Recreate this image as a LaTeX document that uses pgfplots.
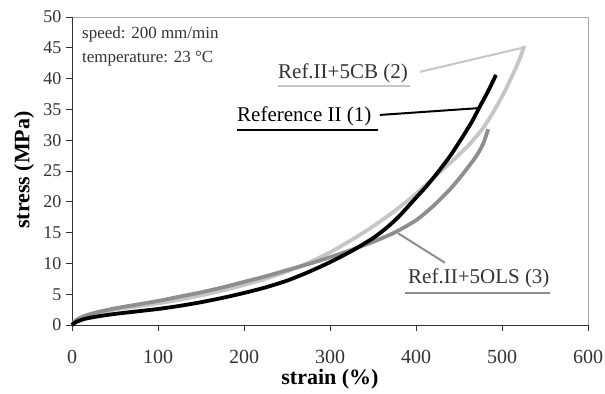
\documentclass[border=0pt]{standalone}
\usepackage{pgfplots}
\pgfplotsset{compat=1.18}
\usepackage{fontspec}
\setmainfont{Liberation Serif}
\definecolor{lg}{HTML}{C6C6C6}
\definecolor{mg}{HTML}{8E8E8E}
\definecolor{tc}{HTML}{333333}
\begin{document}
\begin{tikzpicture}
\begin{axis}[
  scale only axis, width=516bp, height=308bp,
  xmin=0, xmax=600, ymin=0, ymax=50,
  clip=false,
  every non boxed x axis/.style={},
  every non boxed y axis/.style={},
  axis lines*=left,
  x axis line style={-}, y axis line style={-},
  axis line style={draw=tc, line width=1bp},
  axis background/.style={draw=black!35, line width=0.8bp},
  xtick={0,100,...,600}, ytick={0,5,...,50},
  tick align=outside, major tick length=6bp,
  tick style={draw=tc, line width=1bp},
  /pgf/number format/assume math mode=true,
  xticklabel style={font=\fontsize{20bp}{22bp}\selectfont, text=tc, yshift=-16bp},
  yticklabel style={font=\fontsize{18bp}{20bp}\selectfont, text=tc, xshift=-1bp},
  xlabel={strain (\%)},
  ylabel={stress (MPa)},
  xlabel style={font=\fontsize{22bp}{24bp}\selectfont\bfseries, at={(axis description cs:0.5,-0.175)}, anchor=center},
  ylabel style={font=\fontsize{22bp}{24bp}\selectfont\bfseries, at={(axis description cs:-0.093,0.503)}, anchor=center},
]
% Ref.II+5CB (2) light gray
\addplot[lg, line width=3.8bp, smooth, tension=0.4] coordinates {
(0,0) (5,0.8) (15,1.4) (30,1.9) (50,2.5) (75,3.0) (100,3.5) (125,4.1) (150,4.8) (175,5.6)
(200,6.5) (225,7.5) (250,8.7) (275,10.1) (300,11.8) (325,13.8) (350,16.0) (375,18.5) (400,21.3)
(426,24.6) (445,27.0) (462,29.3) (477,31.8) (490,34.6) (502,37.6) (513,40.8) (520,43.0) (526,45.3)};
% Ref.II+5OLS (3) medium gray
\addplot[mg, line width=3.8bp, smooth, tension=0.4] coordinates {
(0,0) (5,0.8) (15,1.5) (30,2.1) (50,2.7) (75,3.3) (100,3.9) (125,4.6) (150,5.3) (175,6.1)
(200,7.0) (225,7.9) (250,8.9) (275,9.9) (300,11.0) (325,12.2) (350,13.5) (375,15.0) (400,17.0)
(420,19.3) (440,22.1) (455,24.6) (470,27.4) (478,29.4) (484,31.8)};
% Reference II (1) black
\addplot[black, line width=3.8bp, smooth, tension=0.4] coordinates {
(0,0) (5,0.5) (15,1.0) (30,1.4) (50,1.8) (75,2.2) (100,2.6) (125,3.1) (150,3.7) (175,4.4)
(200,5.2) (225,6.1) (250,7.2) (275,8.6) (300,10.2) (325,12.0) (350,14.1) (366,15.8) (380,17.6)
(397,20.2) (412,22.5) (426,24.9) (440,27.5) (454,30.5) (465,33.0) (474,35.4) (484,38.0) (493,40.6)};
% annotations
\node[anchor=west, inner sep=0pt, font=\fontsize{17bp}{19bp}\selectfont, text=tc] at (axis cs:11.6,47.1) {speed: 200 mm/min};
\node[anchor=west, inner sep=0pt, font=\fontsize{17bp}{19bp}\selectfont, text=tc] at (axis cs:11.6,43.3) {temperature: 23 °C};
% label 2
\node[anchor=west, inner sep=0pt, font=\fontsize{21bp}{23bp}\selectfont, text=tc] at (axis cs:239.5,40.9) {Ref.II+5CB (2)};
\draw[lg, line width=2bp] (axis cs:239.5,38.8) -- (axis cs:393,38.8);
\draw[lg, line width=2bp] (axis cs:404.7,41.1) -- (axis cs:526.7,45.1);
% label 1
\node[anchor=west, inner sep=0pt, font=\fontsize{21bp}{23bp}\selectfont, text=black] at (axis cs:191.9,33.8) {Reference II (1)};
\draw[black, line width=2bp] (axis cs:191.9,31.7) -- (axis cs:355.8,31.7);
\draw[black, line width=2bp] (axis cs:358.1,34.1) -- (axis cs:472,35.2);
% label 3
\node[anchor=west, inner sep=0pt, font=\fontsize{21bp}{23bp}\selectfont, text=tc] at (axis cs:390.7,7.6) {Ref.II+5OLS (3)};
\draw[mg, line width=2bp] (axis cs:387,5.2) -- (axis cs:555.8,5.2);
\draw[mg, line width=2bp] (axis cs:433.7,10.1) -- (axis cs:379,14.9);
\end{axis}
\pgfresetboundingbox
\path[use as bounding box] (-72bp,-69bp) rectangle (533bp,325bp);
\end{tikzpicture}
\end{document}
